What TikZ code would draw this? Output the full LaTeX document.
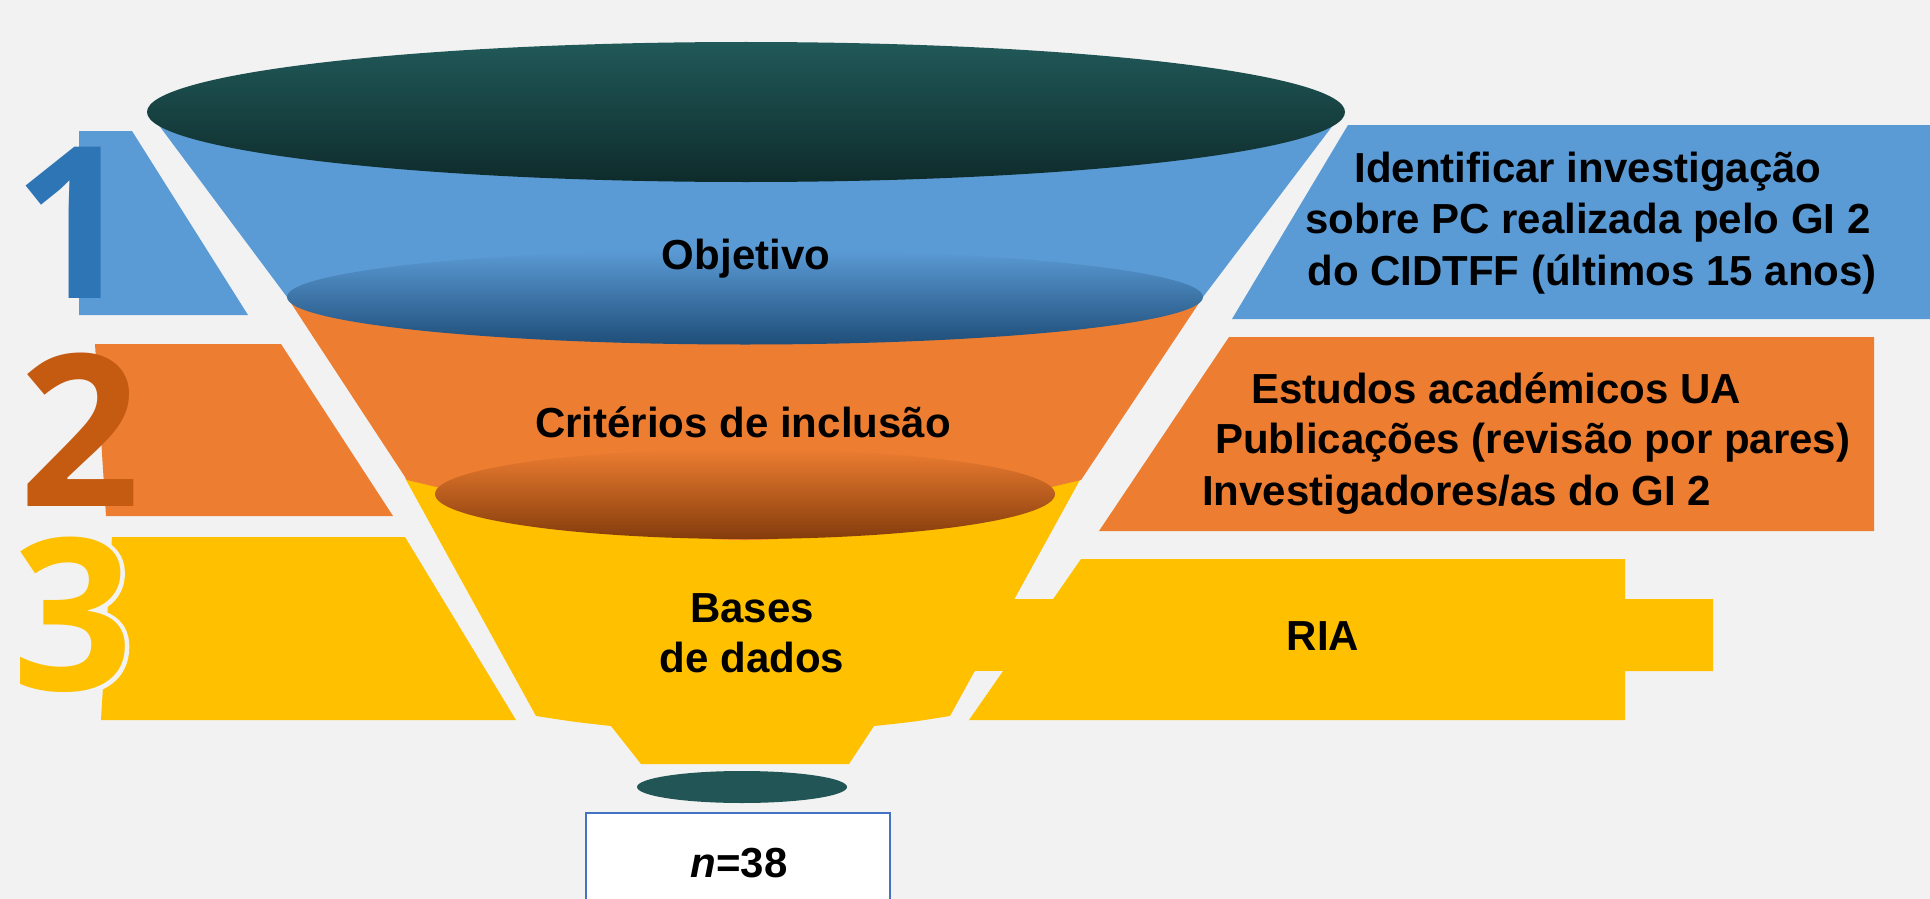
\documentclass[tikz,border=0pt]{standalone}
\usepackage{fontspec}
\setmainfont{Liberation Sans}
\newfontfamily\digitfont{Open Sans}
\definecolor{bgc}{HTML}{F2F2F2}
\definecolor{blu}{HTML}{5B9BD5}
\definecolor{org}{HTML}{ED7D31}
\definecolor{yel}{HTML}{FFC000}
\definecolor{digone}{HTML}{2E75B6}
\definecolor{digtwo}{HTML}{C55A11}
\definecolor{tealtop}{HTML}{215959}
\definecolor{tealbot}{HTML}{0E2B2B}
\definecolor{bludark}{HTML}{1F4E79}
\definecolor{orgdark}{HTML}{843C0C}
\definecolor{outletc}{HTML}{225555}
\definecolor{boxline}{HTML}{4472C4}
\tikzset{
  lbl/.style={font=\bfseries\fontsize{42}{50}\selectfont, text=black, inner sep=0pt},
  digit/.style={font=\digitfont\bfseries\fontsize{212}{212}\selectfont, inner sep=0pt},
}
\begin{document}
\begin{tikzpicture}[x=1pt,y=-1pt]
% background
\fill[bgc] (0,0) rectangle (1930,899);
\useasboundingbox (0,0) rectangle (1930,899);

% left bands
\fill[blu] (79,131) -- (132,131) -- (248,315) -- (79,315) -- cycle;
\fill[org] (95,344) -- (281,344) -- (393,516) -- (106,516) -- cycle;
\fill[yel] (112,537) -- (405,537) -- (516,720) -- (101,720) -- cycle;

% digits
\node[digit, text=digone] (d1) at (74,223) {1};
\node[digit, text=digtwo] (d2) at (80,430) {2};
\node[digit, text=yel] (d3) at (73,615)
  {\special{pdf:literal direct 2 Tr 8 w 1 j 0.949 0.949 0.949 RG}3\special{pdf:literal direct 0 Tr}};
\node[digit, text=yel] (d3fill) at (73,615) {3};

% right bands
\fill[blu] (1348,125) -- (1930,125) -- (1930,319) -- (1232,319) -- cycle;
\fill[org] (1229,337) -- (1874,337) -- (1874,531) -- (1099,531) -- cycle;
\fill[yel] (1081,559) -- (1625,559) -- (1625,599) -- (1713,599) -- (1713,671)
  -- (1625,671) -- (1625,720) -- (969,720) -- cycle;
\fill[yel] (950,599) rectangle (1625,671);

% funnel bodies
\fill[yel] (405,478) -- (536,716) .. controls (575,722) .. (611,726) -- (641,764)
  -- (849,764) -- (874,726) .. controls (912,722) .. (950,716) -- (1081,478) -- cycle;
\fill[org] (287,297) -- (407,480) .. controls (745,560) .. (1081,480) -- (1203,297) -- cycle;
\fill[blu] (149,112) -- (287,297) -- (1203,297) -- (1343,112) -- cycle;

% rims
\shade[top color=org, bottom color=orgdark] (745,494) ellipse [x radius=310, y radius=45];
\shade[top color=blu, bottom color=bludark] (745,297) ellipse [x radius=458, y radius=47.5];
\shade[top color=tealtop, bottom color=tealbot] (746,112) ellipse [x radius=599, y radius=70];

% outlet and result box
\fill[outletc] (742,787) ellipse [x radius=105, y radius=16];
\draw[boxline, line width=2pt, fill=white] (586,813) rectangle (890,910);

% funnel labels
\node[lbl, anchor=base] (obj) at (746,269) {Objetivo};
\node[lbl, anchor=base] (crit) at (743,437) {Critérios de inclusão};
\node[lbl, anchor=base] (bases1) at (752,622) {Bases};
\node[lbl, anchor=base] (bases2) at (752,672) {de dados};
\node[lbl, anchor=base] (res) at (739,877) {\textit{n}=38};

% right labels
\node[lbl, anchor=base] (r1a) at (1588,182) {Identificar investigação};
\node[lbl, anchor=base] (r1b) at (1588,233) {sobre PC realizada pelo GI 2};
\node[lbl, anchor=base] (r1c) at (1592,285) {do CIDTFF (últimos 15 anos)};
\node[lbl, anchor=base west] (r2a) at (1251,403) {Estudos académicos UA};
\node[lbl, anchor=base west] (r2b) at (1215,453) {Publicações (revisão por pares)};
\node[lbl, anchor=base west] (r2c) at (1202,505) {Investigadores/as do GI 2};
\node[lbl, anchor=base] (r3) at (1323,650) {RIA};
\end{tikzpicture}
\end{document}
